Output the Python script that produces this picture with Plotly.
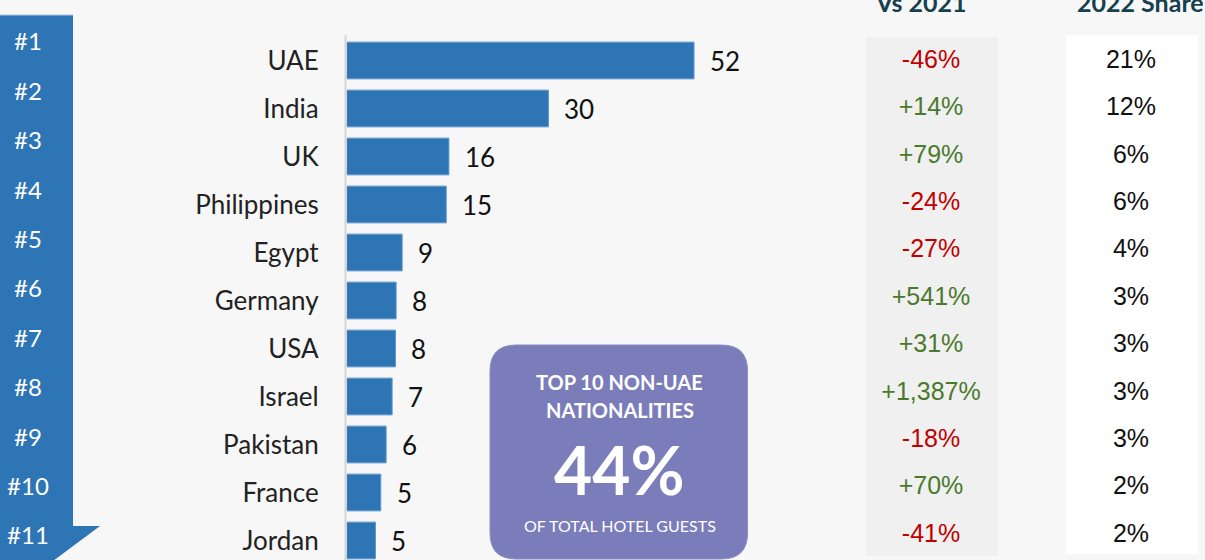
import plotly.graph_objects as go

W, H = 1205, 560

# ---------------- data ----------------
countries = ["UAE", "India", "UK", "Philippines", "Egypt", "Germany", "USA",
             "Israel", "Pakistan", "France", "Jordan"]
guests = [52.0, 30.2, 15.3, 14.9, 8.3, 7.4, 7.3, 6.8, 5.9, 5.1, 4.3]
guest_labels = ["52", "30", "16", "15", "9", "8", "8", "7", "6", "5", "5"]
ranks = ["#1", "#2", "#3", "#4", "#5", "#6", "#7", "#8", "#9", "#10", "#11"]
change_vs_2021 = ["-46%", "+14%", "+79%", "-24%", "-27%", "+541%", "+31%",
                  "+1,387%", "-18%", "+70%", "-41%"]
share_2022 = ["21%", "12%", "6%", "6%", "4%", "3%", "3%", "3%", "3%", "2%", "2%"]
header_change = "Vs 2021"
header_share = "2022 Share"
box_lines = ["TOP 10 NON-UAE", "NATIONALITIES", "44%", "OF TOTAL HOTEL GUESTS"]

# ---------------- styling ----------------
BG = "#f7f7f7"
BLUE = "#2e75b6"
PURPLE = "#7b7dbb"
RED = "#c00000"
GREEN = "#4a7a2c"
HEAD = "#163f50"
LATO = "Lato"
ARIAL = "Liberation Sans"


def px(x):
    return x / W


def py(y):
    return 1 - y / H


# bar axis geometry (pixels)
BAR_X0 = 346.7
PX_PER_UNIT = (694 - 346.7) / 52.0
X_RANGE = [0, 80]
x_dom = [px(BAR_X0), px(BAR_X0 + X_RANGE[1] * PX_PER_UNIT)]

# row geometry
ROW0, ROWSTEP = 60.5, 48.0
y_range = [(H - ROW0) / ROWSTEP, -ROW0 / ROWSTEP]
RK0, RKSTEP = 44.3, 49.4
y2_range = [(H - RK0) / RKSTEP, -RK0 / RKSTEP]
TB0, TBSTEP = 61.5, 47.4
y3_range = [(H - TB0) / TBSTEP, -TB0 / TBSTEP]

fig = go.Figure()

fig.add_trace(go.Bar(
    x=guests, y=countries, orientation="h",
    marker=dict(color=BLUE, line=dict(color="#5a95cc", width=1)),
    width=0.765, xaxis="x", yaxis="y", hoverinfo="skip",
))

# rank labels
fig.add_trace(go.Scatter(
    x=[28] * len(ranks), y=ranks, mode="text", text=ranks,
    textfont=dict(family=LATO, size=24, color="white"),
    xaxis="x2", yaxis="y2", hoverinfo="skip", cliponaxis=False,
))

# change vs 2021
fig.add_trace(go.Scatter(
    x=[931] * len(countries), y=countries, mode="text", text=change_vs_2021,
    textfont=dict(family=ARIAL, size=25,
                  color=[RED if c.startswith("-") else GREEN for c in change_vs_2021]),
    xaxis="x2", yaxis="y3", hoverinfo="skip", cliponaxis=False,
))

# 2022 share
fig.add_trace(go.Scatter(
    x=[1131] * len(countries), y=countries, mode="text", text=share_2022,
    textfont=dict(family=ARIAL, size=25, color="#111111"),
    xaxis="x2", yaxis="y3", hoverinfo="skip", cliponaxis=False,
))

annotations = []
for c, v, lab in zip(countries, guests, guest_labels):
    annotations.append(dict(
        x=v, y=c, xref="x", yref="y", text=lab, showarrow=False,
        xanchor="left", yanchor="middle", xshift=14, yshift=0,
        font=dict(family=LATO, size=26, color="#111111"),
    ))

# headers (partially cut by top edge)
for txt, cx in ((header_change, 921), (header_share, 1140)):
    annotations.append(dict(x=px(cx), y=py(2), xref="paper", yref="paper",
                            text="<b>%s</b>" % txt, showarrow=False,
                            xanchor="center", yanchor="middle",
                            font=dict(family=LATO, size=25, color=HEAD)))

# purple box texts
BOX_CX = 620
for txt, cy, size, bold in ((box_lines[0], 382, 20, True), (box_lines[1], 410, 20, True),
                            (box_lines[2], 469, 66, True), (box_lines[3], 525, 16, False)):
    annotations.append(dict(x=px(BOX_CX), y=py(cy), xref="paper", yref="paper",
                            text=("<b>%s</b>" % txt) if bold else txt, showarrow=False,
                            xanchor="center", yanchor="middle",
                            font=dict(family=LATO, size=size, color="white")))


def rounded_rect(x0, y0, x1, y1, r):
    return ("M {a},{b} L {c},{b} Q {x1},{b} {x1},{d} L {x1},{e} Q {x1},{f} {c},{f} "
            "L {a},{f} Q {x0},{f} {x0},{e} L {x0},{d} Q {x0},{b} {a},{b} Z").format(
        a=px(x0 + r), c=px(x1 - r), b=py(y0), d=py(y0 + r), e=py(y1 - r), f=py(y1),
        x0=px(x0), x1=px(x1))


ribbon = "M {},{} L {},{} L {},{} L {},{} L {},{} L {},{} Z".format(
    px(0), py(15), px(73), py(15), px(73), py(526), px(100), py(526),
    px(53), py(561), px(0), py(561))

shapes = [
    # table backgrounds
    dict(type="rect", xref="paper", yref="paper", x0=px(866), x1=px(998),
         y0=py(556), y1=py(37), fillcolor="#f0f0f0", line=dict(width=0), layer="below"),
    dict(type="rect", xref="paper", yref="paper", x0=px(1066), x1=px(1198),
         y0=py(554), y1=py(35), fillcolor="#ffffff", line=dict(width=0), layer="below"),
    # ribbon
    dict(type="path", xref="paper", yref="paper", path=ribbon,
         fillcolor=BLUE, line=dict(width=0), layer="below"),
    dict(type="line", xref="paper", yref="paper", x0=px(0), x1=px(73), y0=py(15), y1=py(15),
         line=dict(color="#a9c8e8", width=1)),
    # axis line
    dict(type="line", xref="paper", yref="paper", x0=px(345.5), x1=px(345.5),
         y0=py(35), y1=py(561), line=dict(color="#d6d6d6", width=2)),
    # purple box
    dict(type="path", xref="paper", yref="paper", path=rounded_rect(490, 345, 747.5, 559, 26),
         fillcolor=PURPLE, line=dict(color="#8a8cc6", width=1), layer="above"),
]

fig.update_layout(
    width=W, height=H,
    margin=dict(l=0, r=0, t=0, b=0),
    paper_bgcolor=BG, plot_bgcolor="rgba(0,0,0,0)",
    showlegend=False,
    xaxis=dict(domain=x_dom, range=X_RANGE, visible=False, fixedrange=True),
    yaxis=dict(domain=[0, 1], type="category", categoryorder="array", categoryarray=countries,
               range=y_range, showgrid=False, zeroline=False, showline=False,
               ticks="", ticklabelstandoff=27,
               tickfont=dict(family=LATO, size=26, color="#222222")),
    xaxis2=dict(domain=[0, 1], range=[0, W], anchor="y2", visible=False),
    yaxis2=dict(domain=[0, 1], type="category", categoryorder="array", categoryarray=ranks,
                range=y2_range, anchor="x2", visible=False),
    yaxis3=dict(domain=[0, 1], type="category", categoryorder="array", categoryarray=countries,
                range=y3_range, anchor="x2", overlaying="y2", visible=False),
    shapes=shapes,
    annotations=annotations,
    bargap=0.2,
)

fig.write_html("out.html", config={"displayModeBar": False},
               post_script="document.body.style.margin='0';document.body.style.overflow='hidden';")
